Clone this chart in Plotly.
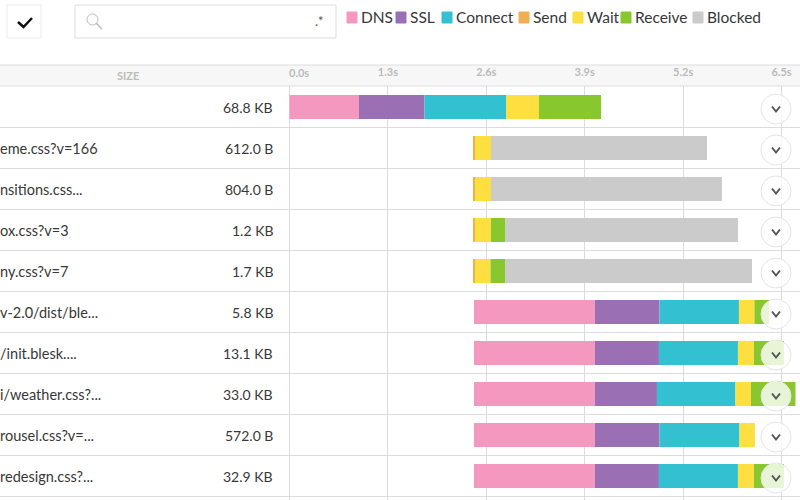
#!/usr/bin/env python3
"""
Exports the request waterfall preview as Plotly HTML.

Call:
    python plot.py
"""
from __future__ import annotations

import plotly.graph_objects as go

PHASES = ["DNS", "SSL", "Connect", "Send", "Wait", "Receive", "Blocked"]
COLORS = {
    "DNS": "#f598bf",
    "SSL": "#9a6fb4",
    "Connect": "#33c1d2",
    "Send": "#f0ae55",
    "Wait": "#fddf40",
    "Receive": "#88c72d",
    "Blocked": "#cbcbcb",
}
LEGEND_X = [347, 396, 442, 519, 573, 621, 693]  # swatch left edge in px

# name, size, start, then seconds per phase
ROWS = [
    ("", "68.8 KB", 0.0, [0.918, 0.865, 1.077, 0.0, 0.436, 0.819, 0.0]),
    ("eme.css?v=166", "612.0 B", 2.437, [0, 0, 0, 0.013, 0.212, 0.0, 2.853]),
    ("nsitions.css...", "804.0 B", 2.437, [0, 0, 0, 0.013, 0.212, 0.0, 3.051]),
    ("ox.css?v=3", "1.2 KB", 2.437, [0, 0, 0, 0.013, 0.212, 0.192, 3.071]),
    ("ny.css?v=7", "1.7 KB", 2.437, [0, 0, 0, 0.013, 0.205, 0.192, 3.263]),
    ("v-2.0/dist/ble...", "5.8 KB", 2.437, [1.598, 0.852, 1.05, 0.0, 0.205, 0.192, 0.0]),
    ("/init.blesk....", "13.1 KB", 2.437, [1.598, 0.845, 1.044, 0.0, 0.211, 0.396, 0.0]),
    ("i/weather.css?...", "33.0 KB", 2.437, [1.598, 0.819, 1.037, 0.0, 0.205, 0.588, 0.0]),
    ("rousel.css?v=...", "572.0 B", 2.437, [1.598, 0.852, 1.057, 0.0, 0.205, 0.0, 0.0]),
    ("redesign.css?...", "32.9 KB", 2.437, [1.598, 0.845, 1.044, 0.0, 0.211, 0.396, 0.0]),
]

WIDTH = 800
HEIGHT = 500
TOP = 86  # px where the rows begin
PX_PER_S = 75.7
ZERO_PX = 289.5
ROW_PX = 41
FIRST_ROW_PX = 107
FONT = "Lato"


def add_box(fig: go.Figure, x0, y0, x1, y1, fill, line="#e2e2e2", kind="rect", layer="above") -> None:
    fig.add_shape(
        type=kind,
        xref="paper",
        yref="paper",
        layer=layer,
        x0=x0 / WIDTH,
        x1=x1 / WIDTH,
        y0=(HEIGHT - y0) / (HEIGHT - TOP),
        y1=(HEIGHT - y1) / (HEIGHT - TOP),
        fillcolor=fill,
        line=dict(color=line, width=1),
    )


def add_label(fig: go.Figure, x, y, text, size=14, color="#383838", anchor="left") -> None:
    fig.add_annotation(
        xref="paper",
        yref="paper",
        x=x / WIDTH,
        y=(HEIGHT - y) / (HEIGHT - TOP),
        text=text,
        showarrow=False,
        xanchor=anchor,
        yanchor="middle",
        font=dict(size=size, color=color, family=FONT),
    )


def add_phase_bars(fig: go.Figure) -> None:
    position = [row[2] for row in ROWS]
    for index, phase in enumerate(PHASES):
        values = [row[3][index] for row in ROWS]
        fig.add_trace(
            go.Bar(
                y=list(range(len(ROWS))),
                x=values,
                base=list(position),
                orientation="h",
                width=0.585,
                name=phase,
                marker=dict(color=COLORS[phase], line=dict(width=0)),
                showlegend=False,
            )
        )
        position = [start + value for start, value in zip(position, values)]


def add_toggles(fig: go.Figure) -> None:
    center = (776 - ZERO_PX) / PX_PER_S
    rows = [index + 2 / ROW_PX for index in range(len(ROWS))]
    fig.add_trace(
        go.Scatter(
            x=[center] * len(ROWS),
            y=rows,
            mode="markers",
            marker=dict(
                size=30,
                color="rgba(255,255,255,0.8)",
                line=dict(color="#e4e4e4", width=1),
            ),
            showlegend=False,
        )
    )
    half_x = 4 / PX_PER_S
    half_y = 2.5 / ROW_PX
    chevron_x = []
    chevron_y = []
    for row in rows:
        chevron_x += [center - half_x, center, center + half_x, None]
        chevron_y += [row - half_y, row + half_y, row - half_y, None]
    fig.add_trace(
        go.Scatter(
            x=chevron_x,
            y=chevron_y,
            mode="lines",
            line=dict(color="#555555", width=2),
            showlegend=False,
        )
    )


def add_toolbar(fig: go.Figure) -> None:
    add_box(fig, -3, 65, 803, 86, "#f7f7f7", "#dddddd", layer="below")
    add_box(fig, 7, 5, 41, 38, "#ffffff", "#ebebeb")
    add_box(fig, 75, 5, 336, 38, "#ffffff", "#dddddd")
    add_box(fig, 87, 14, 98, 25, "rgba(0,0,0,0)", "#bbbbbb", kind="circle")
    fig.add_shape(
        type="line", xref="paper", yref="paper",
        x0=96 / WIDTH, x1=102 / WIDTH,
        y0=(HEIGHT - 23) / (HEIGHT - TOP), y1=(HEIGHT - 29) / (HEIGHT - TOP),
        line=dict(color="#bbbbbb", width=1.5),
    )
    fig.add_shape(
        type="path", xref="paper", yref="paper",
        path="M {} {} L {} {} L {} {}".format(
            18 / WIDTH, (HEIGHT - 22) / (HEIGHT - TOP),
            23.5 / WIDTH, (HEIGHT - 27) / (HEIGHT - TOP),
            32 / WIDTH, (HEIGHT - 18) / (HEIGHT - TOP),
        ),
        line=dict(color="#111111", width=2.5),
    )
    add_label(fig, 313, 21, ".*", size=13, color="#555555")
    for phase, left in zip(PHASES, LEGEND_X):
        add_box(fig, left, 12, left + 10, 23, COLORS[phase], COLORS[phase])
        add_label(fig, left + 12, 17.5, phase, size=15.5)
    add_label(fig, 128, 75, "<b>SIZE</b>", size=11, color="#bbbbbb", anchor="center")
    add_label(fig, 299, 72, "<b>0.0s</b>", size=11, color="#bbbbbb", anchor="center")


def build_waterfall_figure() -> go.Figure:
    fig = go.Figure()
    add_phase_bars(fig)
    add_toggles(fig)
    add_toolbar(fig)
    for index, (name, size, start, phases) in enumerate(ROWS):
        y = FIRST_ROW_PX + index * ROW_PX
        if name:
            add_label(fig, -2, y, name, size=14.5)
        add_label(fig, 275, y, size, size=14, anchor="right")
    fig.update_layout(
        width=WIDTH,
        height=HEIGHT,
        barmode="overlay",
        margin=dict(l=0, r=0, t=TOP, b=0, pad=0),
        paper_bgcolor="#ffffff",
        plot_bgcolor="#ffffff",
        font=dict(family=FONT),
        xaxis=dict(
            side="top",
            range=[-ZERO_PX / PX_PER_S, (WIDTH - ZERO_PX) / PX_PER_S],
            tickvals=[0.0, 1.3, 2.6, 3.9, 5.2, 6.5],
            ticktext=["", "<b>1.3s</b>", "<b>2.6s</b>", "<b>3.9s</b>", "<b>5.2s</b>", "<b>6.5s</b>"],
            tickfont=dict(size=11, color="#bbbbbb", family=FONT),
            ticks="outside",
            ticklen=5,
            tickcolor="rgba(0,0,0,0)",
            showgrid=True,
            gridcolor="#dcdcdc",
            gridwidth=1,
            zeroline=False,
        ),
        yaxis=dict(
            range=[
                (HEIGHT - FIRST_ROW_PX) / ROW_PX,
                (TOP - FIRST_ROW_PX) / ROW_PX,
            ],
            tickvals=[index - 0.5 for index in range(1, len(ROWS) + 1)],
            showticklabels=False,
            showgrid=True,
            gridcolor="#dddddd",
            gridwidth=1,
            zeroline=False,
        ),
    )
    return fig


def main() -> None:
    figure = build_waterfall_figure()
    figure.write_html(
        "out.html",
        config={"displayModeBar": False},
        post_script="document.body.style.margin = '0';",
    )


if __name__ == "__main__":
    main()
